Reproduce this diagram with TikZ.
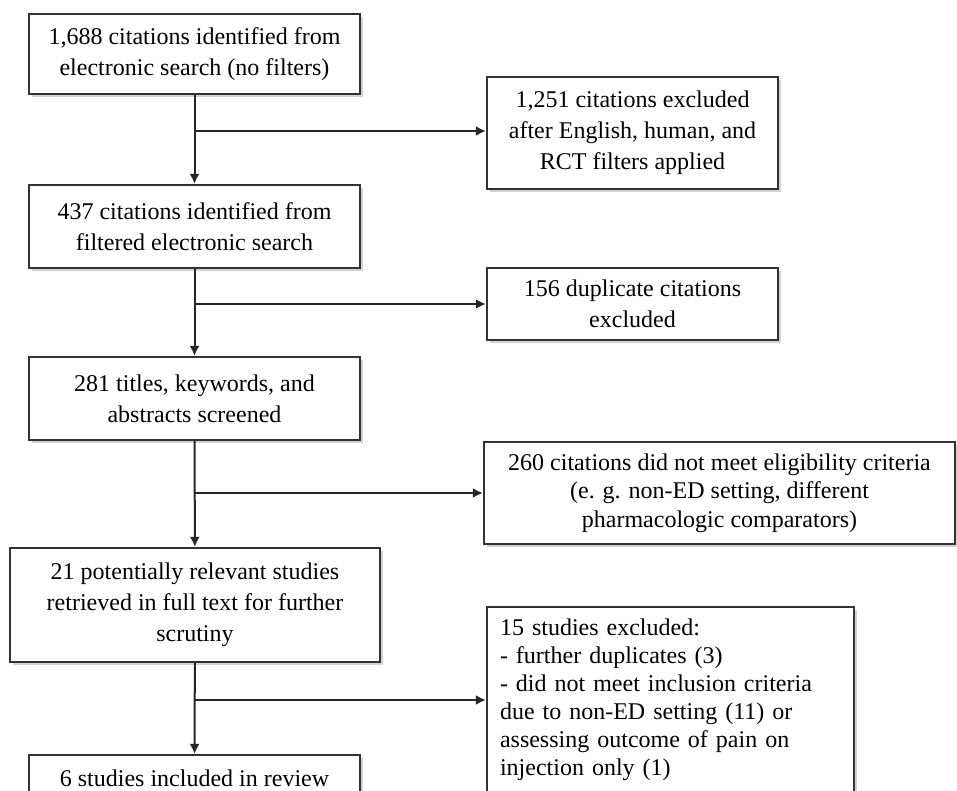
\documentclass[tikz,border=0pt]{standalone}
\usepackage{fontspec}
\setmainfont{Liberation Serif}
\usetikzlibrary{arrows.meta,shadows}
\begin{document}
\begin{tikzpicture}[x=1pt,y=-1pt]
        % Styles
        \tikzstyle{box}=[draw=black!80,line width=2.2pt,fill=white,inner sep=6pt,font=\fontsize{24}{31}\selectfont,drop shadow={shadow xshift=3pt,shadow yshift=-3pt,fill=black!25,opacity=0.7}]
        \tikzstyle{main box}=[box,align=center,minimum width=331pt]
        \tikzstyle{side box}=[box,align=center]
        \tikzstyle{flow line}=[draw=black!85,line width=2pt]
        \tikzstyle{flow arrow}=[flow line,-{Latex[length=10pt,width=10pt]}]
        %page
        \useasboundingbox (0,0) rectangle (957,791);
        \clip (0,0) rectangle (957,791);
        %main column
        \node[main box,minimum height=80pt] (search) at (194.5,54) {1,688 citations identified from\\electronic search (no filters)};
        \node[main box,minimum height=83pt] (filtered) at (194.5,226.5) {437 citations identified from\\filtered electronic search};
        \node[main box,minimum height=83pt] (screened) at (194.5,398.5) {281 titles, keywords, and\\abstracts screened};
        \node[main box,minimum width=370pt,minimum height=114pt] (fulltext) at (195,605) {21 potentially relevant studies\\retrieved in full text for further\\scrutiny};
        \node[main box,minimum height=46pt] (included) at (194.5,778) {6 studies included in review};
        %excluded boxes
        \node[side box,minimum width=291pt,minimum height=112pt] (langfilter) at (632.5,133) {1,251 citations excluded\\after English, human, and\\RCT filters applied};
        \node[side box,minimum width=291pt,minimum height=72pt] (duplicates) at (632.5,304) {156 duplicate citations\\excluded};
        \node[side box,minimum width=471pt,minimum height=102pt,font=\fontsize{24}{28.5}\selectfont] (ineligible) at (719.5,493) {260 citations did not meet eligibility criteria\\(e. g. non-ED setting, different\\pharmacologic comparators)};
        \node[box,align=left,text width=341pt,inner xsep=13pt,minimum height=186pt,font=\fontsize{24}{28}\selectfont] (excluded) at (670.5,700) {15 studies excluded:\\- further duplicates (3)\\- did not meet inclusion criteria\\due to non-ED setting (11) or\\assessing outcome of pain on\\injection only (1)};
        %connectors
        \coordinate (split1) at (194.5,131);
        \coordinate (split2) at (194.5,304);
        \coordinate (split3) at (194.5,493);
        \coordinate (split4) at (194.5,700);
        \foreach \a/\b in {search/filtered,filtered/screened,screened/fulltext,fulltext/included}
            \draw[flow arrow] (\a) -- (\b);
        \foreach \s/\b in {split1/langfilter,split2/duplicates,split3/ineligible,split4/excluded}
            \draw[flow arrow] (\s) -- (\s -| \b.west);
    \end{tikzpicture}
\end{document}
